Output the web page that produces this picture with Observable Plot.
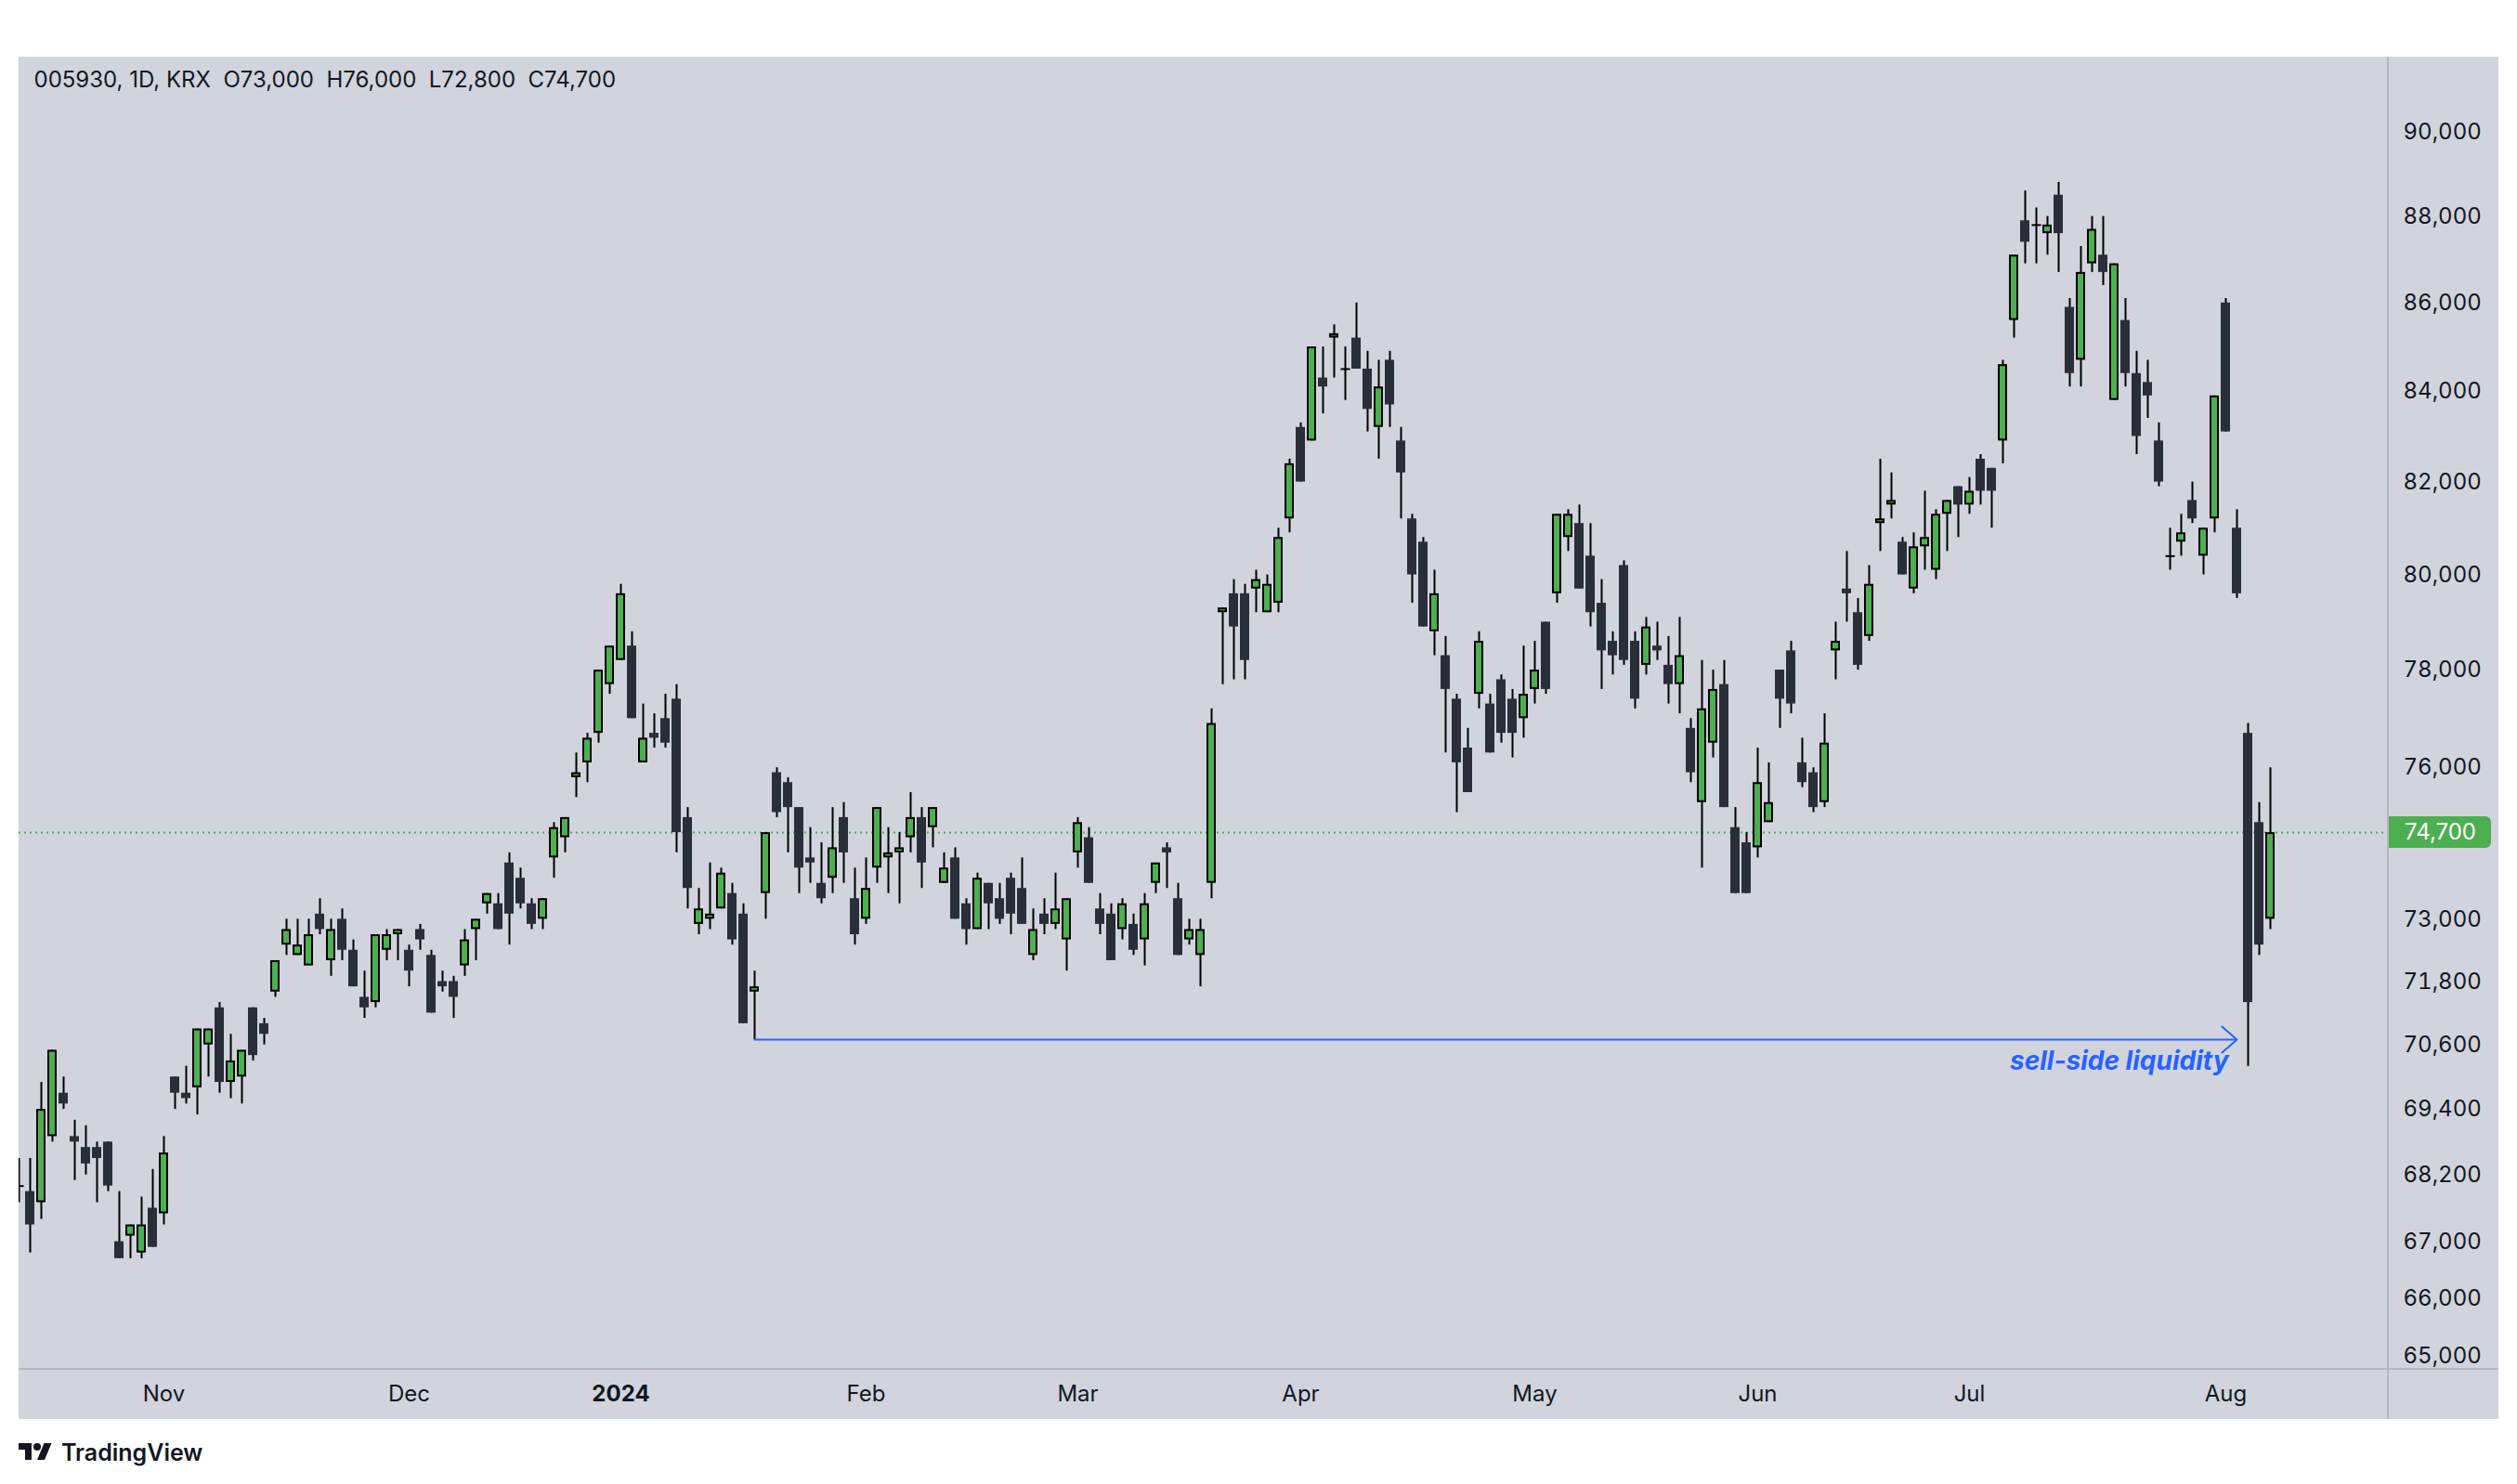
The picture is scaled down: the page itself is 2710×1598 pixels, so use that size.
<!DOCTYPE html>
<html>
<head>
<meta charset="utf-8">
<script src="https://cdn.jsdelivr.net/npm/d3@7"></script>
<script src="https://cdn.jsdelivr.net/npm/@observablehq/plot@0.6"></script>
<style>
  html, body { margin: 0; padding: 0; background: #ffffff; width: 2710px; height: 1598px; overflow: hidden; font-family: Inter, "Noto Sans", sans-serif; }
  #panel { position: absolute; left: 20px; top: 61px; width: 2670px; height: 1467px; background: #d1d4dc; overflow: hidden; }
  #panel svg { display: block; position: absolute; left: 0; top: 0; }
  .vsep { position: absolute; left: 2550px; top: 0; width: 2px; height: 1467px; background: #b4b7bf; }
  .hsep { position: absolute; left: 0; top: 1412px; width: 2670px; height: 2px; background: #b4b7bf; }
  #tag { position: absolute; left: 2552px; width: 110px; height: 34px; background: #4caf50; color: #ffffff; border-radius: 0 6px 6px 0; font: 24px Inter, sans-serif; line-height: 34px; padding-left: 17px; box-sizing: border-box; }
  #brand { position: absolute; left: 20px; top: 1550px; height: 28px; display: flex; align-items: center; gap: 10px; color: #131722; font: 600 25px Inter, sans-serif; }
</style>
</head>
<body>
<div id="panel"><div class="vsep"></div><div class="hsep"></div><div id="tag"></div></div>
<div id="brand"><svg width="36" height="28" viewBox="0 0 36 28"><path fill="#131722" d="M14 22H7V11H0V4h14v18zM28 22h-8l7.5-18h8L28 22z"/><circle fill="#131722" cx="20" cy="8" r="4"/></svg><span>TradingView</span></div>
<script>
// ---- data (daily candles, oldest first) ----
const symbolInfo = ["005930", "1D", "KRX"];

const opens = [
  68000,67900,67700,68900,69700,68900,68700,68700,68800,67000,
  67100,66800,67600,67500,70000,69700,69800,70600,71300,69900,
  70000,71300,71000,71600,72500,72300,72100,73100,72200,73000,
  72400,71500,71400,72400,72700,72400,72800,72300,71800,71800,
  72100,72800,73300,73300,74100,73800,73300,73000,74200,74600,
  75800,76100,76700,77700,78200,78500,76100,76700,77000,77400,
  75000,72900,73000,73200,73500,73100,71600,73500,75900,75700,
  75200,74200,73700,73800,75000,73400,73000,74000,74200,74300,
  74600,75000,74800,73700,74200,73300,72800,73700,73400,73800,
  73600,72300,73100,72900,72600,74300,74600,73200,73100,72800,
  72900,72600,73700,74400,73400,72600,72300,73700,79200,79600,
  79600,79700,79200,79400,81200,83200,82900,84300,85200,84500,
  85200,84500,83200,84700,82900,81200,80700,78800,78300,77400,
  76400,77500,77300,77800,77400,77000,77600,79000,79600,80800,
  81100,80400,79400,78600,80200,78600,78100,78500,78100,77700,
  76800,75300,76500,77700,74800,74500,74400,74900,78000,78400,
  76100,75900,75300,78400,79700,79200,78700,81100,81500,80700,
  79700,80600,80100,81300,81900,81500,82500,82300,82900,85600,
  87900,87800,87600,88500,85900,84700,86900,87100,83800,85600,
  84400,84200,82900,80400,80700,81600,80400,81200,86000,81000,
  76700,74900,73000
];
const highs = [
  68500,68500,69900,70500,70000,69200,69100,68800,68800,67900,
  67300,67800,68300,68900,70000,70200,70900,70900,71400,70800,
  70500,71300,71100,72200,73000,73000,73000,73400,73000,73200,
  72600,72000,72700,72800,72800,72500,72900,72400,72000,71900,
  72800,73000,73500,73500,74300,74000,73400,73400,74900,75000,
  76300,76700,78000,78500,79800,78800,77300,77100,77500,77700,
  75200,73600,74100,74000,73700,73300,72000,74700,76000,75800,
  75200,74800,74500,75200,75300,74000,74200,75200,74800,74700,
  75500,75200,75200,74300,74400,73400,73900,73700,73700,73900,
  74200,73200,73400,73900,73400,75000,74800,73500,73300,73400,
  73100,73500,74100,74500,73700,73000,73000,77200,79300,79900,
  79800,80100,80000,81000,82500,83300,85000,85000,85500,85000,
  86000,84900,84700,84900,83200,81300,80800,80100,78700,77500,
  76800,78800,77500,77900,77600,78500,78600,79000,81300,81400,
  81500,81100,79900,78800,80300,78800,79100,79000,78700,79100,
  77000,78200,78000,78200,75200,74700,76400,76100,78000,78600,
  76600,76000,77100,79000,80500,79500,80200,82500,82200,80800,
  80900,81800,81400,81600,81900,82100,82600,82300,84700,87100,
  88600,88200,88000,88800,86100,87300,88000,88000,86900,86100,
  84900,84700,83300,81000,81300,82000,81000,83900,86100,81400,
  76900,75300,76000
];
const lows = [
  67700,66800,67400,68800,69400,68100,68200,67700,67900,66700,
  66700,66700,66900,67300,69400,69500,69300,70000,69700,69600,
  69500,70300,70600,71500,72300,72300,72100,72700,71900,72200,
  71700,71100,71300,72200,72200,71700,72400,71200,71600,71100,
  71900,72200,73100,72800,72500,73200,72800,72800,73800,74300,
  75400,75700,76500,77500,78200,77000,76100,76400,76400,74300,
  73200,72700,72800,73200,72500,71000,70700,73000,75000,74300,
  73500,73700,73300,73500,73700,72500,72900,73700,73500,73300,
  74300,73600,74400,73700,73000,72500,72800,72800,72900,72700,
  72900,72200,72700,72800,72000,74000,73700,72700,72200,72600,
  72300,72100,73500,73600,72300,72500,71700,73400,77700,77800,
  77800,79200,79200,79200,80900,82000,82900,83500,84300,83800,
  84500,83100,82500,83200,81200,79400,78900,78300,76300,75100,
  75500,77200,76300,76500,76200,76600,77300,77500,79400,80500,
  79700,78900,77600,77900,78100,77200,77900,78200,77300,77100,
  75700,74000,76200,75200,73500,73500,74200,74900,76800,77100,
  75600,75100,75200,77800,79000,78000,78600,80500,81200,80000,
  79600,80100,79900,80500,80800,81300,81500,81000,82400,85200,
  86900,86900,87100,86700,84100,84100,86700,86400,83800,84100,
  82600,83400,81900,80100,80400,81100,80000,80900,83100,79500,
  70200,72300,72800
];
const closes = [
  68000,67300,69400,70500,69500,68800,68400,68500,68000,66700,
  67300,67300,66900,68600,69700,69600,70900,70900,69900,70300,
  70500,70400,70800,72200,72800,72500,72700,72800,72800,72400,
  71700,71300,72700,72700,72800,72000,72600,71200,71700,71500,
  72600,73000,73500,72800,73100,73300,72900,73400,74800,75000,
  75900,76600,78000,78500,79600,77000,76600,76600,76500,74700,
  73600,73200,73100,73900,72600,71000,71700,74700,75100,75200,
  74000,74100,73400,74400,74300,72700,73600,75200,74300,74400,
  75000,74100,75200,74000,73000,72800,73800,73300,73000,73100,
  72900,72800,72900,73200,73400,74900,73700,72900,72200,73300,
  72400,73300,74100,74300,72300,72800,72800,76900,79300,78900,
  78200,79900,79800,80800,82400,82000,85000,84100,85300,84500,
  84500,83600,84100,83700,82200,80000,78900,79600,77600,76100,
  75500,78600,76300,76700,76700,77500,78000,77600,81300,81300,
  79700,79200,78400,78300,78200,77400,78900,78400,77700,78300,
  75900,77200,77600,75200,73500,73500,75700,75300,77400,77300,
  75700,75200,76500,78600,79600,78100,79800,81200,81600,80000,
  80600,80800,81300,81600,81500,81800,81800,81800,84600,87100,
  87400,87800,87800,87600,84400,86700,87700,86700,86900,84400,
  83000,83900,82000,80400,80900,81200,81000,83900,83100,79600,
  71400,72500,74700
];

// time-axis labels: candle index of each month's first session
const monthIndex  = [13, 35, 54, 76, 95, 115, 136, 156, 175, 198];
const monthLabels = ["Nov", "Dec", "2024", "Feb", "Mar", "Apr", "May", "Jun", "Jul", "Aug"];
const yearLabel = "2024";

// price-axis tick labels
const priceTicks = [65000, 66000, 67000, 68200, 69400, 70600, 71800, 73000, 76000, 78000, 80000, 82000, 84000, 86000, 88000, 90000];

// annotation: sell-side liquidity (from the swing-low candle to the arrow end)
const liquidityText = "sell-side liquidity";
const liquidityFromIndex = 66;
const liquidityToIndex = 199;

// ---- build ----
const candles = opens.map((o, i) => ({ i, o, h: highs[i], l: lows[i], c: closes[i] }));
const upC = candles.filter(d => d.c > d.o);
const downC = candles.filter(d => d.c < d.o);
const dojiC = candles.filter(d => d.c === d.o);
const last = candles[candles.length - 1];
const liquidityLevel = lows[liquidityFromIndex];

const fmt = d3.format(",");
const header = symbolInfo.join(", ") + "\u00a0\u00a0O" + fmt(last.o) + "\u00a0\u00a0H" + fmt(last.h) + "\u00a0\u00a0L" + fmt(last.l) + "\u00a0\u00a0C" + fmt(last.c);

const W = 2670, H = 1467, MR = 119, MB = 55;
const step = (W - MR) / 12;      // 12 px per session
const half = 5 / 12;             // half body width in sessions

const months = monthIndex.map((i, k) => ({ i, label: monthLabels[k] }));

const chart = Plot.plot({
  width: W,
  height: H,
  marginLeft: 0,
  marginRight: MR,
  marginTop: 0,
  marginBottom: MB,
  style: { background: "transparent", fontFamily: "Inter, sans-serif", overflow: "visible" },
  x: { type: "linear", domain: [0, step], axis: null },
  y: { type: "log", domain: [64781, 91810], axis: null },
  marks: [
    Plot.ruleY([last.c], { stroke: "#4caf50", strokeWidth: 2, strokeDasharray: "2,4" }),
    Plot.ruleX(candles, { x: "i", y1: "l", y2: "h", stroke: "#000000", strokeWidth: 2, clip: true }),
    Plot.rect(downC, { x1: d => d.i - half, x2: d => d.i + half, y1: "o", y2: "c", fill: "#2a2e39", clip: true }),
    Plot.rect(upC, { x1: d => d.i - half, x2: d => d.i + half, y1: "o", y2: "c", fill: "#4caf50", stroke: "#000000", strokeWidth: 2, inset: 1, clip: true }),
    Plot.link(dojiC, { x1: d => d.i - half, x2: d => d.i + half, y1: "o", y2: "c", stroke: "#000000", strokeWidth: 2, clip: true }),
    Plot.arrow([0], { x1: liquidityFromIndex, x2: liquidityToIndex, y1: liquidityLevel, y2: liquidityLevel, stroke: "#2962ff", strokeWidth: 2, headLength: 16, headAngle: 82 }),
    Plot.text([liquidityText], { x: liquidityToIndex, y: liquidityLevel, text: d => d, textAnchor: "end", dx: -9, dy: 24, fill: "#2962ff", fontSize: 28, fontWeight: 700, fontStyle: "italic" }),
    Plot.axisY(priceTicks, { anchor: "right", tickSize: 0, tickPadding: 16, fontSize: 24, tickFormat: fmt, fill: "#131722", label: null }),
    Plot.text(months.filter(d => d.label !== yearLabel), { x: "i", text: "label", frameAnchor: "bottom", lineAnchor: "middle", dy: 28, fontSize: 24, fill: "#131722" }),
    Plot.text(months.filter(d => d.label === yearLabel), { x: "i", text: "label", frameAnchor: "bottom", lineAnchor: "middle", dy: 28, fontSize: 24, fontWeight: 700, fill: "#131722" }),
    Plot.text([header], { text: d => d, frameAnchor: "top-left", textAnchor: "start", lineAnchor: "middle", dx: 16, dy: 25, fontSize: 24, fill: "#131722" })
  ]
});

const panel = document.getElementById("panel");
panel.insertBefore(chart, panel.firstChild);
const tag = document.getElementById("tag");
tag.textContent = fmt(last.c);
tag.style.top = (chart.scale("y").apply(last.c) - 17) + "px";
</script>
</body>
</html>
